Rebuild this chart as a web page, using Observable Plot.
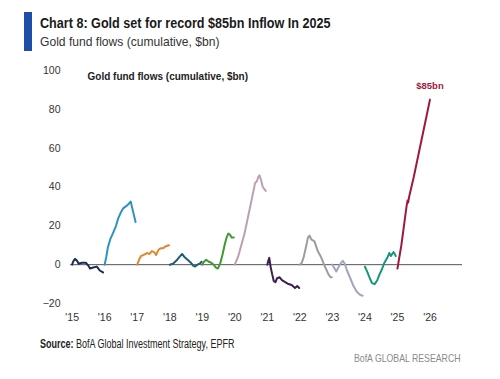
<!DOCTYPE html>
<html><head><meta charset="utf-8">
<script src="https://cdn.jsdelivr.net/npm/d3@7"></script>
<script src="https://cdn.jsdelivr.net/npm/@observablehq/plot@0.6"></script>
<style>
body{margin:0;background:#fff;width:500px;height:379px;position:relative;overflow:hidden;font-family:"Liberation Sans",sans-serif;}
#bar{position:absolute;left:24px;top:12px;width:8px;height:39px;background:#1d4fa8;}
#title{position:absolute;left:40px;top:15px;font-weight:bold;font-size:14px;color:#1a1a1a;white-space:nowrap;transform:scaleX(0.9);transform-origin:0 0;}
#subtitle{position:absolute;left:40px;top:34px;font-size:13px;color:#333;white-space:nowrap;transform:scaleX(0.93);transform-origin:0 0;}
#chart{position:absolute;left:0;top:60px;}
#source{position:absolute;left:40px;top:337px;font-size:12px;color:#222;white-space:nowrap;transform:scaleX(0.75);transform-origin:0 0;}
#brand{position:absolute;left:354px;top:352px;font-size:11.5px;color:#8a8a8a;white-space:nowrap;transform:scaleX(0.76);transform-origin:0 0;}
</style>
</head><body>
<div id="bar"></div>
<div id="title">Chart 8: Gold set for record $85bn Inflow In 2025</div>
<div id="subtitle">Gold fund flows (cumulative, $bn)</div>
<div id="chart"></div>
<div id="source"><b>Source:</b> BofA Global Investment Strategy, EPFR</div>
<div id="brand">BofA GLOBAL RESEARCH</div>
<script>
// Year segments: fraction of year elapsed (t) and cumulative flow ($bn)
const years = [2015, 2016, 2017, 2018, 2019, 2020, 2021, 2022, 2023, 2024, 2025];
const colors = ["#1c2d4f", "#2b93c4", "#e0872d", "#1f5c78", "#3f9a34", "#b9a1b3", "#3c1f50", "#9d9d9d", "#9ea7bf", "#18967a", "#9c1b3d"];

const t2015 = [0, 0.03, 0.09, 0.15, 0.2, 0.3, 0.42, 0.5, 0.55, 0.65, 0.76, 0.85, 0.95];
const v2015 = [0, 1.5, 3, 2, 0.5, 1, 1, -0.5, -2, -1.5, -1, -3, -4];

const t2016 = [0, 0.05, 0.1, 0.17, 0.25, 0.35, 0.42, 0.5, 0.57, 0.65, 0.72, 0.8, 0.85, 0.95];
const v2016 = [0, 4, 9, 13, 16, 20, 24, 27, 29, 30, 31, 32.5, 29, 22];

const t2017 = [0, 0.07, 0.12, 0.2, 0.3, 0.38, 0.45, 0.52, 0.58, 0.65, 0.72, 0.8, 0.88, 0.98];
const v2017 = [0, 3, 4.5, 5, 6, 5.5, 7, 6.5, 5, 7.5, 8.5, 8.5, 9.5, 10];

const t2018 = [0, 0.1, 0.2, 0.3, 0.38, 0.45, 0.55, 0.65, 0.72, 0.78, 0.85, 0.92, 0.98];
const v2018 = [0, 0.5, 2, 4, 5.5, 4, 2.5, 1, -0.5, -1, 0, 0.5, 1.5];

const t2019 = [0, 0.05, 0.12, 0.2, 0.28, 0.35, 0.42, 0.48, 0.55, 0.62, 0.7, 0.75, 0.8, 0.85, 0.9, 0.97];
const v2019 = [0, 1.5, 2.5, 1.5, 1, 0, -1.5, -2, 0.5, 5, 11, 14, 16, 15.5, 14, 14];

const t2020 = [0, 0.1, 0.2, 0.3, 0.4, 0.45, 0.55, 0.6, 0.62, 0.68, 0.72, 0.76, 0.8, 0.86, 0.95];
const v2020 = [0, 4, 10, 16, 24, 28, 36, 40, 42, 43, 45, 46, 44, 40, 38];

const t2021 = [0, 0.03, 0.06, 0.1, 0.15, 0.2, 0.25, 0.3, 0.38, 0.45, 0.55, 0.65, 0.75, 0.85, 0.92, 0.98];
const v2021 = [0, 2, 3.5, -1, -5, -8.5, -9, -7, -6.5, -8, -9, -10, -10.5, -12, -11, -12];

const t2022 = [0, 0.06, 0.12, 0.2, 0.25, 0.3, 0.35, 0.45, 0.55, 0.65, 0.72, 0.8, 0.88, 0.95, 0.98];
const v2022 = [0, 1, 4, 10, 14, 15, 13, 12, 7, 4, 1, -2, -5, -6.5, -6.5];

const t2023 = [0, 0.05, 0.12, 0.18, 0.25, 0.32, 0.38, 0.45, 0.55, 0.65, 0.75, 0.85, 0.93];
const v2023 = [0, -1.5, -3.5, -1.5, 0.5, 2, 0.5, -3, -7, -11, -14, -15.5, -16];

const t2024 = [0, 0.08, 0.15, 0.22, 0.3, 0.38, 0.45, 0.52, 0.6, 0.7, 0.75, 0.8, 0.88, 0.95];
const v2024 = [-1, -4, -7, -9.5, -10, -8, -5, -2.5, 1, 4, 6, 4.5, 6.5, 4.5];

const t2025 = [0, 0.05, 0.12, 0.2, 0.28, 0.31, 0.33, 0.36, 0.5, 0.65, 0.8, 1.0];
const v2025 = [-2, 3, 10, 20, 30, 33, 32, 35, 45, 57, 69, 85];

const yTicks = [-20, 0, 20, 40, 60, 80, 100];
const xTicks = [2015, 2016, 2017, 2018, 2019, 2020, 2021, 2022, 2023, 2024, 2025, 2026];
const innerTitle = "Gold fund flows (cumulative, $bn)";
const endLabel = "$85bn";

const segT = [t2015, t2016, t2017, t2018, t2019, t2020, t2021, t2022, t2023, t2024, t2025];
const segV = [v2015, v2016, v2017, v2018, v2019, v2020, v2021, v2022, v2023, v2024, v2025];
const rows = [];
years.forEach((yr, i) => segT[i].forEach((t, j) => rows.push({year: yr, x: yr + t, v: segV[i][j]})));
const last = rows[rows.length - 1];

const chart = Plot.plot({
  width: 500,
  height: 270,
  marginLeft: 70,
  marginRight: 38,
  marginTop: 10,
  marginBottom: 27,
  style: {fontFamily: "Liberation Sans, sans-serif", fontSize: "10.5px", color: "#333", background: "transparent"},
  x: {domain: [2014.95, 2027], ticks: xTicks, tickFormat: d => "'" + String(d).slice(2), tickSize: 0, tickPadding: 10, label: null},
  y: {domain: [-20, 100], ticks: yTicks, tickSize: 0, tickPadding: 10, label: null},
  color: {domain: years, range: colors},
  marks: [
    Plot.ruleY([0], {stroke: "#555", strokeWidth: 1}),
    Plot.line(rows, {x: "x", y: "v", z: "year", stroke: "year", strokeWidth: 2, curve: "linear"}),
    Plot.text([innerTitle], {frameAnchor: "top-left", dx: 17, dy: 2, fontWeight: "bold", fontSize: 10, fill: "#222", textAnchor: "start"}),
    Plot.text([last], {x: "x", y: "v", text: () => endLabel, dy: -14, fontWeight: "bold", fontSize: 9.5, fill: "#9c1b3d"})
  ]
});
document.getElementById("chart").appendChild(chart);
</script>
</body></html>
